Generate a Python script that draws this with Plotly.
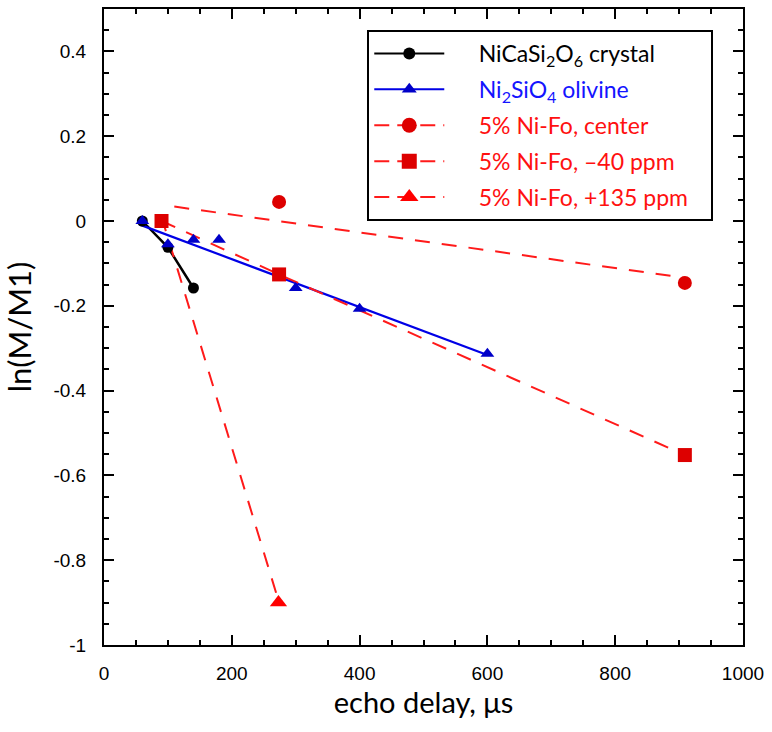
import plotly.graph_objects as go

# ---- data ----
crystal_x = [60, 100, 140]
crystal_y = [0.0, -0.062, -0.158]

olivine_x = [60, 100, 140, 180, 300, 400, 600]
olivine_y = [0.0, -0.055, -0.044, -0.044, -0.158, -0.207, -0.313]
olivine_fit_x = [55, 600]
olivine_fit_y = [-0.008, -0.316]

center_x = [274, 909]
center_y = [0.045, -0.146]
center_fit_x = [110, 909]
center_fit_y = [0.034, -0.134]

m40_x = [90, 274, 909]
m40_y = [0.0, -0.126, -0.552]

p135_x = [273]
p135_y = [-0.90]
p135_fit_x = [90, 273]
p135_fit_y = [0.01, -0.895]

y_tickvals = [-1, -0.8, -0.6, -0.4, -0.2, 0, 0.2, 0.4]
y_ticktext = ["-1", "-0.8", "-0.6", "-0.4", "-0.2", "0", "0.2", "0.4"]
x_tickvals = [0, 200, 400, 600, 800, 1000]
x_ticktext = ["0", "200", "400", "600", "800", "1000"]

PAD = "\u00a0" * 5
TAIL = "\u00a0" * 3
names = [
    PAD + "NiCaSi<sub>2</sub>O<sub>6</sub> crystal",
    PAD + "<span style='color:#1414ff'>Ni<sub>2</sub>SiO<sub>4</sub> olivine</span>",
    PAD + "<span style='color:#ff1010'>5% Ni-Fo, center</span>",
    PAD + "<span style='color:#ff1010'>5% Ni-Fo, \u201340 ppm</span>",
    PAD + "<span style='color:#ff1010'>5% Ni-Fo, +135 ppm</span>" + TAIL,
]

BLACK = "#000000"
BLUE_L = "#0000e6"
BLUE_M = "#0000c8"
RED_L = "#ff1a1a"
RED_M = "#dd0000"
DASH = "15px,12px"

fig = go.Figure()

# fit / connecting lines
fig.add_trace(go.Scatter(x=crystal_x, y=crystal_y, mode="lines",
                         line=dict(color=BLACK, width=2.5), showlegend=False))
fig.add_trace(go.Scatter(x=olivine_fit_x, y=olivine_fit_y, mode="lines",
                         line=dict(color=BLUE_L, width=2.2), showlegend=False))
fig.add_trace(go.Scatter(x=center_fit_x, y=center_fit_y, mode="lines",
                         line=dict(color=RED_L, width=2, dash=DASH), showlegend=False))
fig.add_trace(go.Scatter(x=p135_fit_x, y=p135_fit_y, mode="lines",
                         line=dict(color=RED_L, width=2, dash=DASH), showlegend=False))
fig.add_trace(go.Scatter(x=m40_x, y=m40_y, mode="lines",
                         line=dict(color=RED_L, width=2, dash=DASH), showlegend=False))

# markers
fig.add_trace(go.Scatter(x=crystal_x, y=crystal_y, mode="markers",
                         marker=dict(symbol="circle", size=11, color=BLACK), showlegend=False))
fig.add_trace(go.Scatter(x=olivine_x, y=olivine_y, mode="markers",
                         marker=dict(symbol="triangle-up", size=12, color=BLUE_M), showlegend=False))
fig.add_trace(go.Scatter(x=center_x, y=center_y, mode="markers",
                         marker=dict(symbol="circle", size=14, color=RED_M), showlegend=False))
fig.add_trace(go.Scatter(x=p135_x, y=p135_y, mode="markers",
                         marker=dict(symbol="triangle-up", size=15, color="#ff0000"), showlegend=False))
fig.add_trace(go.Scatter(x=m40_x, y=m40_y, mode="markers",
                         marker=dict(symbol="square", size=14, color=RED_M), showlegend=False))

# legend entries
leg_specs = [
    (names[0], dict(color=BLACK, width=2), dict(symbol="circle", size=12, color=BLACK)),
    (names[1], dict(color=BLUE_L, width=2), dict(symbol="triangle-up", size=13, color=BLUE_M)),
    (names[2], dict(color=RED_L, width=2, dash="15px,8px"), dict(symbol="circle", size=15, color=RED_M)),
    (names[3], dict(color=RED_L, width=2, dash="15px,8px"), dict(symbol="square", size=15, color=RED_M)),
    (names[4], dict(color=RED_L, width=2, dash="15px,8px"), dict(symbol="triangle-up", size=16, color="#ff0000")),
]
for i, (nm, ln, mk) in enumerate(leg_specs):
    fig.add_trace(go.Scatter(x=[None], y=[None], mode="lines+markers", name=nm,
                             line=ln, marker=mk, legendgroup=f"g{i}"))

axis_common = dict(
    showline=True, linecolor="black", linewidth=2, mirror="allticks",
    ticks="inside", ticklen=10, tickwidth=2, tickcolor="black",
    showgrid=False, zeroline=False,
    tickfont=dict(family="Liberation Sans, Arial", size=19, color="black"),
)

fig.update_xaxes(range=[0, 1000], tickmode="array", tickvals=x_tickvals, ticktext=x_ticktext,
                 minor=dict(ticks="inside", ticklen=5, tickwidth=2, dtick=50, tickcolor="black"),
                 title=dict(text="echo delay, \u03bcs", font=dict(family="Lato", size=29, color="black"),
                            standoff=0),
                 ticklabelstandoff=10,
                 **axis_common)
fig.update_yaxes(range=[-1, 0.5], tickmode="array", tickvals=y_tickvals, ticktext=y_ticktext,
                 minor=dict(ticks="inside", ticklen=5, tickwidth=2, dtick=0.05, tickcolor="black"),
                 title=dict(text="ln(M/M1)", font=dict(family="Lato", size=31, color="black"),
                            standoff=15),
                 ticklabelstandoff=12,
                 **axis_common)

fig.update_layout(
    width=772, height=732,
    margin=dict(l=104, r=29, t=7, b=87),
    plot_bgcolor="white", paper_bgcolor="white",
    showlegend=True,
    legend=dict(x=0.412, y=0.967, xanchor="left", yanchor="top",
                bgcolor="white", bordercolor="black", borderwidth=2,
                font=dict(family="Lato", size=23, color="black"),
                itemwidth=70, traceorder="grouped", tracegroupgap=3),
)

fig.write_html("out.html")
